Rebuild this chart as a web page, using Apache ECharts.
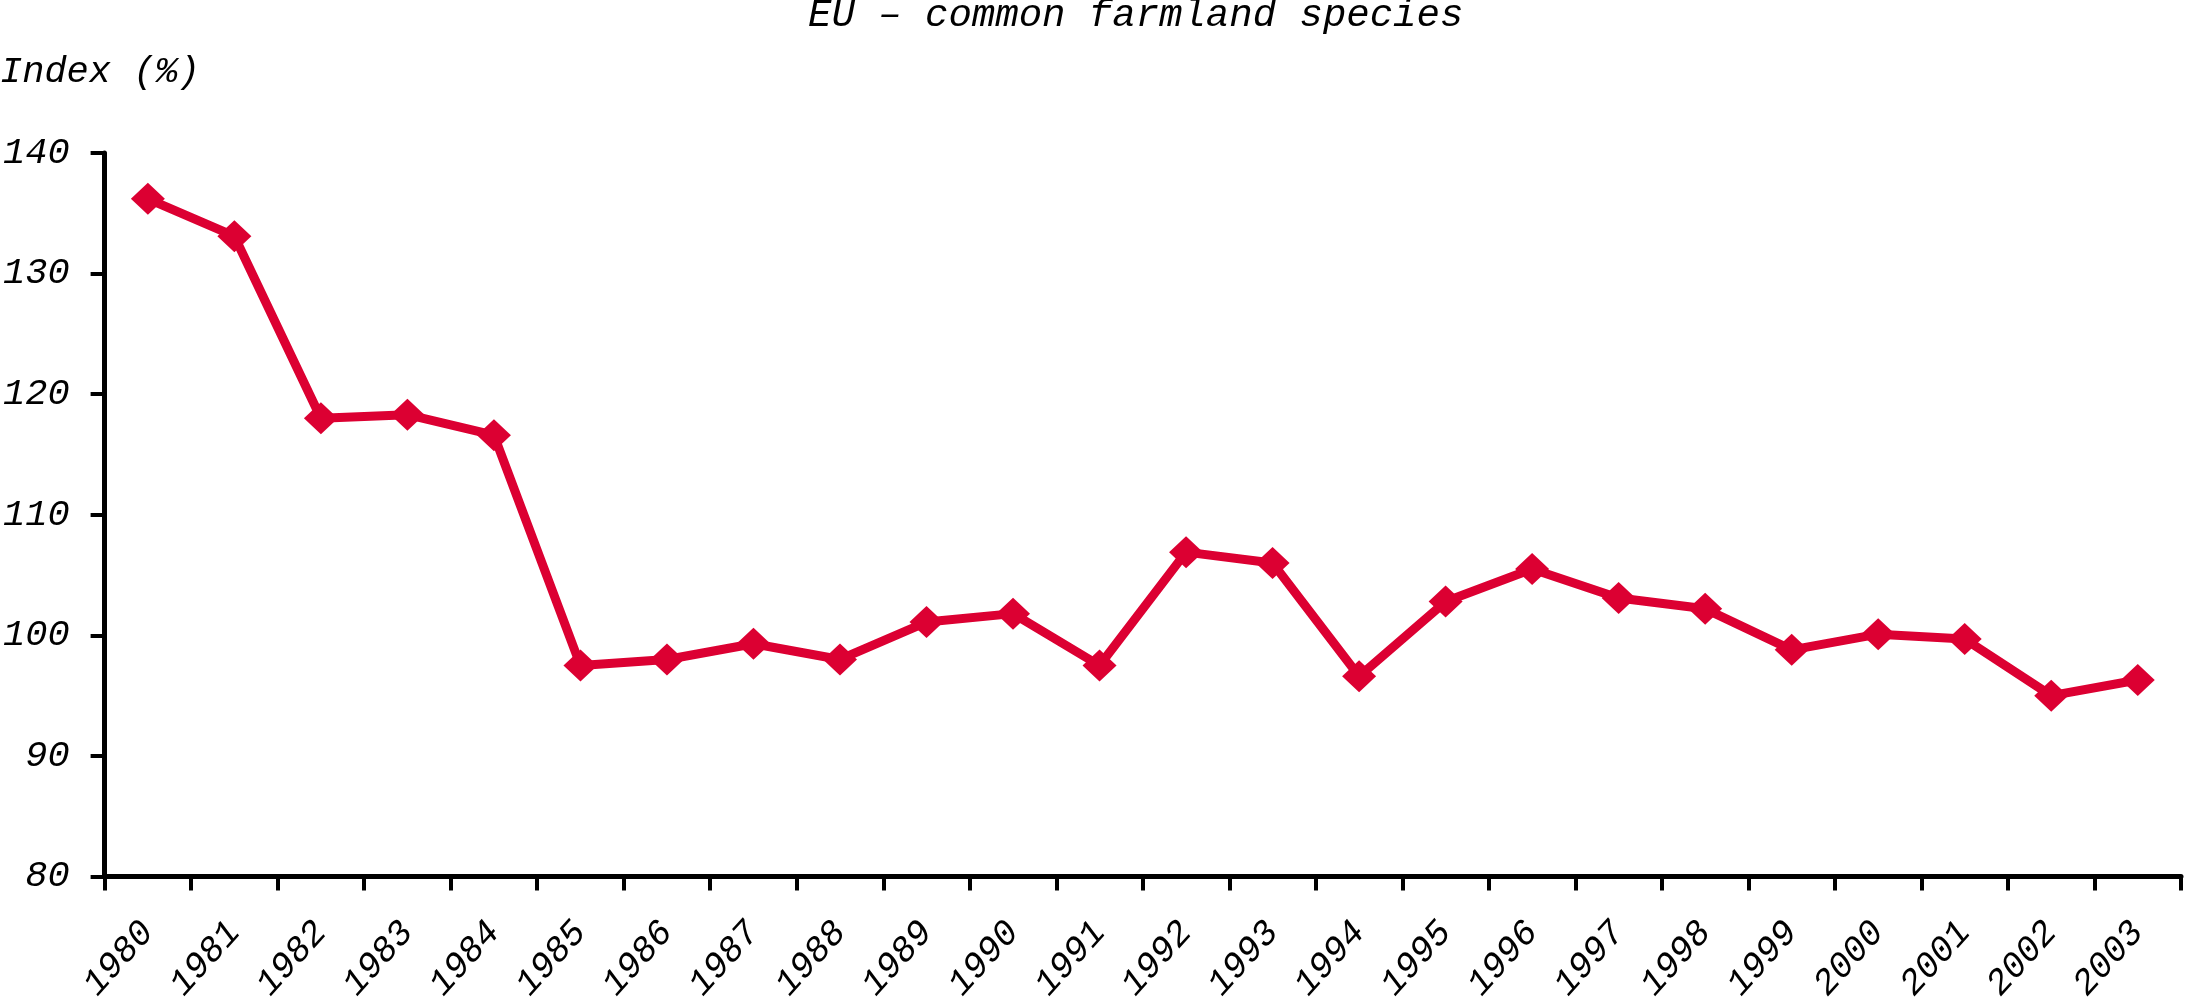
<!DOCTYPE html>
<html>
<head>
<meta charset="utf-8">
<script src="https://cdn.jsdelivr.net/npm/echarts@6/dist/echarts.min.js"></script>
<style>
html,body{margin:0;padding:0;background:#fff;}
#chart{width:2185px;height:1005px;}
</style>
</head>
<body>
<div id="chart"></div>
<script>
const titleText = 'EU \u2013 common farmland species';
const yAxisTitle = 'Index (%)';
const years = ['1980','1981','1982','1983','1984','1985','1986','1987','1988','1989','1990','1991','1992','1993','1994','1995','1996','1997','1998','1999','2000','2001','2002','2003'];
const indexValues = [136.2,133.1,118.0,118.3,116.6,97.5,98.0,99.3,98.0,101.1,101.8,97.5,106.9,106.0,96.6,102.8,105.5,103.1,102.2,98.8,100.1,99.7,95.0,96.3];
const yMin = 80, yMax = 140, yStep = 10;

const FONT = "'Liberation Mono', 'Courier New', monospace";
const chart = echarts.init(document.getElementById('chart'), null, {renderer: 'canvas'});
chart.setOption({
  backgroundColor: '#ffffff',
  animation: false,
  title: [
    {text: titleText, left: 808, top: -4, padding: 0,
     textStyle: {fontFamily: FONT, fontStyle: 'italic', fontWeight: 'normal', fontSize: 39, color: '#000'}},
    {text: yAxisTitle, left: 0, top: 54, padding: 0,
     textStyle: {fontFamily: FONT, fontStyle: 'italic', fontWeight: 'normal', fontSize: 37, color: '#000'}}
  ],
  grid: {left: 103, right: 4, top: 153, bottom: 126, containLabel: false},
  xAxis: {
    type: 'category',
    data: years,
    boundaryGap: true,
    axisLine: {lineStyle: {color: '#000', width: 5}},
    axisTick: {show: true, inside: false, length: 14, lineStyle: {color: '#000', width: 4}},
    axisLabel: {rotate: 48, margin: 50, interval: 0, color: '#000',
      fontFamily: FONT, fontStyle: 'italic', fontSize: 36},
    splitLine: {show: false}
  },
  yAxis: {
    type: 'value',
    min: yMin, max: yMax, interval: yStep,
    axisLine: {show: true, lineStyle: {color: '#000', width: 5}},
    axisTick: {show: true, inside: false, length: 14, lineStyle: {color: '#000', width: 4}},
    axisLabel: {margin: 35, color: '#000', fontFamily: FONT, fontStyle: 'italic', fontSize: 37},
    splitLine: {show: false}
  },
  series: [{
    type: 'line',
    data: indexValues,
    symbol: 'diamond',
    symbolSize: [34, 32],
    showAllSymbol: true,
    lineStyle: {color: '#dc0032', width: 9},
    itemStyle: {color: '#dc0032'},
    z: 3
  }]
});
</script>
</body>
</html>
